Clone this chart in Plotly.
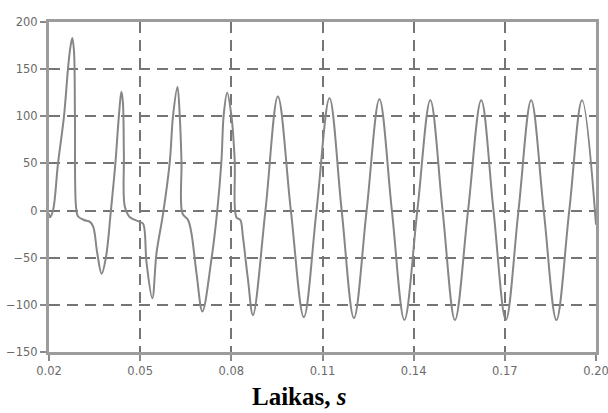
import plotly.graph_objects as go

# Time (s) and signal values
time_s = [
    0.02000, 0.02033, 0.02131, 0.02296, 0.02493, 0.02624, 0.02690, 0.02765,
    0.02821, 0.02854, 0.02887, 0.02953, 0.03150, 0.03347, 0.03455, 0.03587,
    0.03731, 0.03872, 0.04037, 0.04184, 0.04299, 0.04381, 0.04431, 0.04464,
    0.04496, 0.04661, 0.04989, 0.05098, 0.05209, 0.05400, 0.05538, 0.05755,
    0.05975, 0.06083, 0.06228, 0.06303, 0.06359, 0.06392, 0.06576, 0.06687,
    0.06852, 0.07049, 0.07344, 0.07528, 0.07673, 0.07748, 0.07863, 0.08001,
    0.08110, 0.08166, 0.08297, 0.08382, 0.08547, 0.08711,
    0.09122, 0.09532, 0.09959, 0.10386, 0.10803, 0.11230, 0.11631, 0.12035,
    0.12452, 0.12873, 0.13283, 0.13694, 0.14121, 0.14548, 0.14952, 0.15359,
    0.15790, 0.16223, 0.16627, 0.17035, 0.17449, 0.17866, 0.18280, 0.18697,
    0.19120, 0.19541, 0.20000,
]
signal = [
    -3, -7, 0, 50, 100, 150, 170, 183,
    170, 100, 5, -6, -10, -12, -17, -45,
    -67, -50, 0, 50, 100, 126, 115, 60,
    4, -7, -12, -14, -55, -93, -45, -3,
    52, 101, 131, 100, 52, -3, -10, -24,
    -66, -107, -52, -3, 52, 101, 125, 101,
    54, -7, -10, -28, -73, -111,
    0, 121, 0, -113, 0, 119, 0, -114,
    0, 118, 0, -116, 0, 117, 0, -116,
    0, 117, 0, -116, 0, 117, 0, -116,
    0, 117, -15,
]

x_ticks = [0.02, 0.05, 0.08, 0.11, 0.14, 0.17, 0.20]
x_tick_labels = ["0.02", "0.05", "0.08", "0.11", "0.14", "0.17", "0.20"]
y_ticks = [-150, -100, -50, 0, 50, 100, 150, 200]

fig = go.Figure()
fig.add_trace(go.Scatter(
    x=time_s, y=signal, mode="lines",
    line=dict(color="#868686", width=2, shape="spline", smoothing=1.0),
    showlegend=False, hoverinfo="skip",
))

axis_common = dict(
    showgrid=True, gridcolor="#757575", gridwidth=1.5, griddash="11px,7px",
    showline=True, linecolor="#9c9c9c", linewidth=3, mirror=True,
    ticks="outside", ticklen=6, tickcolor="#8a8a8a", tickwidth=1.5,
    tickfont=dict(family="DejaVu Sans", size=11.5, color="#6a6a6a"),
    zeroline=False, automargin=False, ticklabeloverflow="allow",
)

fig.update_layout(
    width=608, height=413,
    margin=dict(l=49, r=12, t=22, b=61),
    paper_bgcolor="white", plot_bgcolor="white",
    xaxis=dict(range=[0.02, 0.20], tickvals=x_ticks, ticktext=x_tick_labels,
               **axis_common),
    yaxis=dict(range=[-150, 200], tickvals=y_ticks, **axis_common),
    annotations=[dict(
        text="<b>Laikas, <i>s</i></b>", xref="paper", yref="paper",
        x=0.458, y=-0.1348, xanchor="center", yanchor="middle", showarrow=False,
        font=dict(family="Liberation Serif", size=25, color="black"),
    )],
)

fig.write_html("out.html")
